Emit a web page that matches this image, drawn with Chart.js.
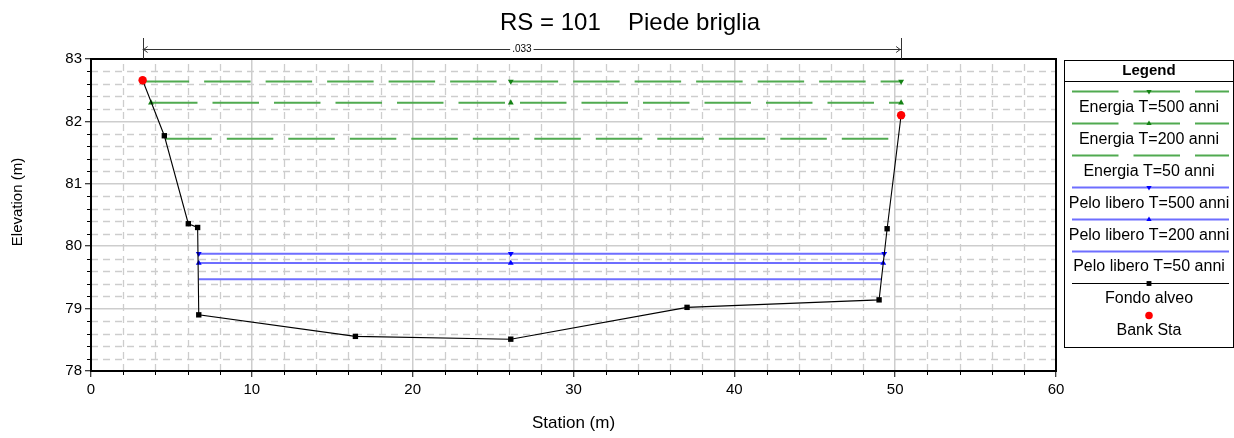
<!DOCTYPE html>
<html>
<head>
<meta charset="utf-8">
<script src="https://cdn.jsdelivr.net/npm/chart.js@4/dist/chart.umd.min.js"></script>
<style>
html,body{margin:0;padding:0;background:#fff;}
#wrap{width:1234px;height:438px;position:relative;}
canvas{display:block;}
</style>
</head>
<body>
<div id="wrap"><canvas id="c" width="1234" height="438"></canvas></div>
<script>
// ---- data ----
const chartTitle = "RS = 101";
const chartSubtitle = "Piede briglia";
const xTitle = "Station (m)";
const yTitle = "Elevation (m)";
const manningLabel = ".033";
const legendTitle = "Legend";

const groundStation = [3.21, 4.56, 6.05, 6.63, 6.70, 16.44, 26.10, 37.06, 49.00, 49.50, 50.37];
const groundElev    = [82.66, 81.77, 80.36, 80.30, 78.90, 78.555, 78.51, 79.02, 79.14, 80.28, 82.10];

const bankStation = [3.21, 50.37];
const bankElev    = [82.66, 82.10];

const egT500Station = [3.21, 26.10, 50.37];
const egT500Elev = 82.64;
const egT200Station = [3.73, 26.10, 50.37];
const egT200Elev = 82.30;
const egT50Station  = [4.62, 50.19];
const egT50Elev = 81.72;

const wsT500Station = [6.70, 26.10, 49.32];
const wsT500Elev = 79.88;
const wsT200Station = [6.70, 26.10, 49.26];
const wsT200Elev = 79.73;
const wsT50Station  = [6.70, 49.14];
const wsT50Elev = 79.47;

const xMin = 0, xMax = 60, xMajor = 10, xMinor = 2;
const yMin = 78, yMax = 83, yMajor = 1, yMinor = 0.2;

const seriesNames = ["Energia T=500 anni","Energia T=200 anni","Energia T=50 anni",
  "Pelo libero T=500 anni","Pelo libero T=200 anni","Pelo libero T=50 anni",
  "Fondo alveo","Bank Sta"];

// ---- helpers ----
const FONT = "'Liberation Sans', Arial, Helvetica, sans-serif";
const pts = (xs, ys) => xs.map((x, i) => ({x, y: Array.isArray(ys) ? ys[i] : ys}));
const near = (v, step) => Math.abs(v / step - Math.round(v / step)) < 1e-6;

const GREEN = 'rgb(80,170,80)', GREEN_M = 'rgb(20,130,20)';
const BLUE = 'rgb(110,110,255)', BLUE_M = 'rgb(0,0,255)';
const DASH = [46.5, 15];

const datasets = [
  {label: seriesNames[7], data: pts(bankStation, bankElev), showLine:false,
   pointStyle:'circle', pointRadius:4.2, pointBackgroundColor:'rgb(255,0,0)', pointBorderColor:'rgb(255,0,0)', pointBorderWidth:0,
   borderColor:'rgb(255,0,0)', _kind:'bank'},
  {label: seriesNames[6], data: pts(groundStation, groundElev), borderColor:'#000', borderWidth:1.1,
   pointStyle:'rect', pointRadius:3.8, pointBackgroundColor:'#000', pointBorderColor:'#000', pointBorderWidth:0, _kind:'ground'},
  {label: seriesNames[3], data: pts(wsT500Station, wsT500Elev), borderColor:BLUE, borderWidth:2,
   pointStyle:'triangle', pointRotation:180, pointRadius:3.4, pointBackgroundColor:BLUE_M, pointBorderColor:BLUE_M, pointBorderWidth:0, _kind:'ws'},
  {label: seriesNames[4], data: pts(wsT200Station, wsT200Elev), borderColor:BLUE, borderWidth:2,
   pointStyle:'triangle', pointRotation:0, pointRadius:3.4, pointBackgroundColor:BLUE_M, pointBorderColor:BLUE_M, pointBorderWidth:0, _kind:'ws'},
  {label: seriesNames[5], data: pts(wsT50Station, wsT50Elev), borderColor:BLUE, borderWidth:2,
   pointRadius:0, _kind:'ws'},
  {label: seriesNames[0], data: pts(egT500Station, egT500Elev), borderColor:GREEN, borderWidth:2, borderDash:DASH,
   pointStyle:'triangle', pointRotation:180, pointRadius:3.4, pointBackgroundColor:GREEN_M, pointBorderColor:GREEN_M, pointBorderWidth:0, _kind:'eg'},
  {label: seriesNames[1], data: pts(egT200Station, egT200Elev), borderColor:GREEN, borderWidth:2, borderDash:DASH,
   pointStyle:'triangle', pointRotation:0, pointRadius:3.4, pointBackgroundColor:GREEN_M, pointBorderColor:GREEN_M, pointBorderWidth:0, _kind:'eg'},
  {label: seriesNames[2], data: pts(egT50Station, egT50Elev), borderColor:GREEN, borderWidth:2, borderDash:DASH,
   pointRadius:0, _kind:'eg'}
];
datasets.forEach(d => { d.tension = 0; d.fill = false; d.pointHoverRadius = d.pointRadius; });

function drawMarker(ctx, style, rot, r, color, x, y) {
  ctx.save();
  ctx.fillStyle = color;
  ctx.translate(x, y);
  ctx.rotate((rot || 0) * Math.PI / 180);
  ctx.beginPath();
  if (style === 'circle') { ctx.arc(0, 0, r, 0, Math.PI * 2); }
  else if (style === 'rect') { const s = r * Math.SQRT1_2; ctx.rect(-s, -s, 2 * s, 2 * s); }
  else if (style === 'triangle') { ctx.moveTo(0, -r); ctx.lineTo(r * 0.87, r * 0.5); ctx.lineTo(-r * 0.87, r * 0.5); ctx.closePath(); }
  ctx.fill();
  ctx.restore();
}

const decor = {
  id: 'decor',
  beforeDatasetsDraw(chart) {
    const {ctx, chartArea: a, scales: {x, y}} = chart;
    ctx.save();
    // minor dashed grid
    ctx.strokeStyle = 'rgb(205,205,205)';
    ctx.lineWidth = 1.3;
    ctx.setLineDash([7, 5]);
    x.ticks.forEach(t => {
      if (near(t.value, xMajor)) return;
      const px = Math.round(x.getPixelForValue(t.value)) + 0.5;
      ctx.beginPath(); ctx.moveTo(px, a.bottom); ctx.lineTo(px, a.top); ctx.stroke();
    });
    y.ticks.forEach(t => {
      if (near(t.value, yMajor)) return;
      const py = Math.round(y.getPixelForValue(t.value)) + 0.5;
      ctx.beginPath(); ctx.moveTo(a.left, py); ctx.lineTo(a.right, py); ctx.stroke();
    });
    ctx.setLineDash([]);
    // minor tick marks
    ctx.strokeStyle = '#000'; ctx.lineWidth = 1;
    x.ticks.forEach(t => {
      if (near(t.value, xMajor)) return;
      const px = Math.round(x.getPixelForValue(t.value)) + 0.5;
      ctx.beginPath(); ctx.moveTo(px, a.bottom); ctx.lineTo(px, a.bottom + 4); ctx.stroke();
    });
    y.ticks.forEach(t => {
      if (near(t.value, yMajor)) return;
      const py = Math.round(y.getPixelForValue(t.value)) + 0.5;
      ctx.beginPath(); ctx.moveTo(a.left - 4, py); ctx.lineTo(a.left, py); ctx.stroke();
    });
    ctx.restore();
  },
  afterDraw(chart) {
    const {ctx, chartArea: a, scales: {x, y}} = chart;
    ctx.save();
    // frame
    ctx.strokeStyle = '#000'; ctx.lineWidth = 2;
    ctx.strokeRect(a.left, a.top, a.right - a.left, a.bottom - a.top);

    // title
    ctx.fillStyle = '#000';
    ctx.textBaseline = 'middle';
    ctx.textAlign = 'left';
    ctx.font = '24px ' + FONT;
    ctx.fillText(chartTitle, 500, 23);
    ctx.fillText(chartSubtitle, 628, 23);

    // dimension line for Manning's n
    const x1 = x.getPixelForValue(bankStation[0]), x2 = x.getPixelForValue(bankStation[1]);
    const dy = 49.5;
    ctx.strokeStyle = '#333'; ctx.lineWidth = 1;
    ctx.beginPath();
    ctx.moveTo(x1, dy); ctx.lineTo(x2, dy);
    ctx.moveTo(Math.round(x1) + 0.5, 38); ctx.lineTo(Math.round(x1) + 0.5, a.top);
    ctx.moveTo(Math.round(x2) + 0.5, 38); ctx.lineTo(Math.round(x2) + 0.5, a.top);
    ctx.moveTo(x1 + 5, dy - 3); ctx.lineTo(x1 + 1, dy); ctx.lineTo(x1 + 5, dy + 3);
    ctx.moveTo(x2 - 5, dy - 3); ctx.lineTo(x2 - 1, dy); ctx.lineTo(x2 - 5, dy + 3);
    ctx.stroke();
    ctx.font = '10px ' + FONT;
    ctx.textAlign = 'center';
    const mx = (x1 + x2) / 2;
    const tw = ctx.measureText(manningLabel).width;
    ctx.fillStyle = '#fff';
    ctx.fillRect(mx - tw / 2 - 2, dy - 5, tw + 4, 10);
    ctx.fillStyle = '#000';
    ctx.fillText(manningLabel, mx, dy);

    // axis titles
    ctx.font = '17px ' + FONT;
    ctx.textAlign = 'center';
    ctx.fillText(xTitle, (a.left + a.right) / 2, 423);
    ctx.save();
    ctx.translate(18, 202);
    ctx.rotate(-Math.PI / 2);
    ctx.font = '15px ' + FONT;
    ctx.fillText(yTitle, 0, 0);
    ctx.restore();

    // legend
    const L = 1064.5, T = 60.5, R = 1233.5, B = 347.5;
    ctx.strokeStyle = '#000'; ctx.lineWidth = 1;
    ctx.strokeRect(L, T, R - L, B - T);
    ctx.beginPath(); ctx.moveTo(L, 81.5); ctx.lineTo(R, 81.5); ctx.stroke();
    ctx.font = 'bold 15px ' + FONT;
    ctx.textAlign = 'center';
    ctx.fillStyle = '#000';
    ctx.fillText(legendTitle, 1149, 71);
    const cx = 1149;
    seriesNames.forEach((name, i) => {
      const ds = chart.data.datasets.find(d => d.label === name);
      const ly = 91.5 + 32 * i;
      const ty = 107.5 + 31.9 * i;
      if (ds._kind !== 'bank') {
        ctx.save();
        ctx.strokeStyle = ds.borderColor;
        ctx.lineWidth = ds.borderWidth;
        ctx.setLineDash(ds.borderDash || []);
        ctx.beginPath(); ctx.moveTo(1072, ly); ctx.lineTo(1229, ly); ctx.stroke();
        ctx.restore();
      }
      if (ds.pointRadius > 0) {
        drawMarker(ctx, ds.pointStyle, ds.pointRotation, ds.pointRadius * 0.9, ds.pointBackgroundColor, cx, ly);
      }
      ctx.font = '16px ' + FONT;
      ctx.fillStyle = '#000';
      ctx.textAlign = 'center';
      ctx.fillText(name, cx, ty);
    });
    ctx.restore();
  }
};

new Chart(document.getElementById('c'), {
  type: 'line',
  data: {datasets},
  options: {
    responsive: false,
    animation: false,
    devicePixelRatio: 1,
    layout: {padding: {top: 59, right: 178, left: 0, bottom: 0}},
    plugins: {legend: {display: false}, tooltip: {enabled: false}, title: {display: false}},
    elements: {line: {tension: 0}},
    scales: {
      x: {
        type: 'linear', min: xMin, max: xMax,
        afterFit(s) { s.height = 67; },
        ticks: {stepSize: xMinor, autoSkip: false, maxRotation: 0, padding: 4, color: '#000',
                font: {family: FONT, size: 15},
                callback: v => near(v, xMajor) ? String(Math.round(v)) : ''},
        grid: {color: c => near(c.tick.value, xMajor) ? 'rgb(205,205,205)' : 'rgba(0,0,0,0)',
               lineWidth: 1.5, tickLength: 6,
               tickColor: c => near(c.tick.value, xMajor) ? '#000' : 'rgba(0,0,0,0)', tickWidth: 1},
        border: {color: '#000', width: 2}
      },
      y: {
        type: 'linear', min: yMin, max: yMax,
        afterFit(s) { s.width = 91; },
        ticks: {stepSize: yMinor, autoSkip: false, padding: 3, color: '#000',
                font: {family: FONT, size: 15},
                callback: v => near(v, yMajor) ? String(Math.round(v)) : ''},
        grid: {color: c => near(c.tick.value, yMajor) ? 'rgb(205,205,205)' : 'rgba(0,0,0,0)',
               lineWidth: 1.5, tickLength: 6,
               tickColor: c => near(c.tick.value, yMajor) ? '#000' : 'rgba(0,0,0,0)', tickWidth: 1},
        border: {color: '#000', width: 2}
      }
    }
  },
  plugins: [decor]
});
</script>
</body>
</html>
